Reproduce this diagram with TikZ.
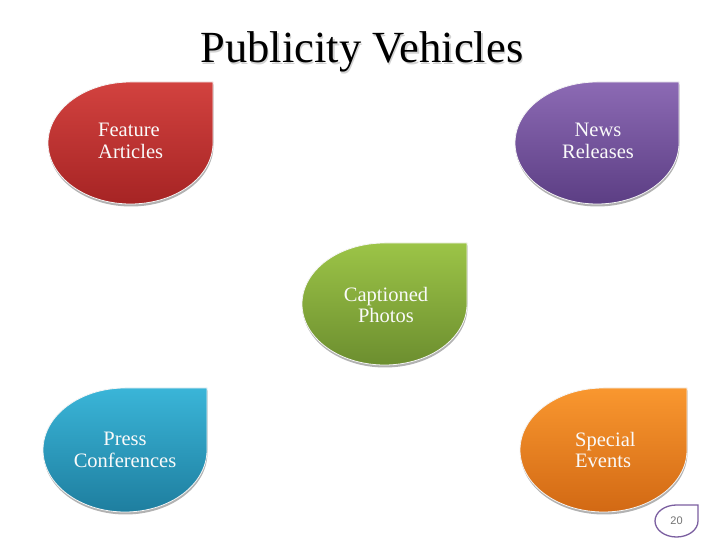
\documentclass[tikz,border=0pt]{standalone}
\usepackage{fontspec}
\setmainfont{Liberation Serif}
\newfontfamily\pagefont{Liberation Sans}
\usetikzlibrary{shadows}
\definecolor{redT}{HTML}{D2423F}\definecolor{redB}{HTML}{A62424}
\definecolor{purT}{HTML}{8C6AB4}\definecolor{purB}{HTML}{5C3E84}
\definecolor{grnT}{HTML}{9CC447}\definecolor{grnB}{HTML}{6C8E2F}
\definecolor{bluT}{HTML}{3AB5D8}\definecolor{bluB}{HTML}{1E7E9F}
\definecolor{orgT}{HTML}{F9972F}\definecolor{orgB}{HTML}{D26914}
\definecolor{pagepurple}{HTML}{7B5FA0}
\tikzset{
  dropbody/.style={draw=white!92!gray, line width=0.8pt,
    drop shadow={shadow xshift=0.5pt, shadow yshift=-2.5pt, opacity=0.3, fill=black}},
  droptext/.style={text=white!96!gray, font=\fontsize{20.5}{21.5}\selectfont, inner sep=0pt},
}
% #1 left, #2 top, #3 right, #4 bottom, #5 style
\newcommand\teardrop[5]{%
  \path[#5] ({(#1+#3)/2},#2) arc[start angle=90, end angle=360,
     x radius={(#3-#1)/2}, y radius={(#2-#4)/2}] -- (#3,#2) -- cycle;}
\begin{document}
\begin{tikzpicture}[x=1pt,y=1pt]
\useasboundingbox[fill=white] (0,0) rectangle (728,546);
% title
\node[font=\fontsize{44.5}{48}\selectfont, text=black!35, opacity=0.5, anchor=base] (titleshadow) at (363.2,481.8) {Publicity Vehicles};
\node[font=\fontsize{44.5}{48}\selectfont, anchor=base] (title) at (362,483) {Publicity Vehicles};
% shapes
\teardrop{48}{464}{213}{342}{dropbody, top color=redT, bottom color=redB}
\teardrop{515}{464}{679}{342}{dropbody, top color=purT, bottom color=purB}
\teardrop{302}{303}{467}{181}{dropbody, top color=grnT, bottom color=grnB}
\teardrop{43}{158}{207}{34}{dropbody, top color=bluT, bottom color=bluB}
\teardrop{520}{158}{687}{34}{dropbody, top color=orgT, bottom color=orgB}
% texts
\node[droptext, align=left, anchor=west] (feature) at (98,405) {Feature\\Articles};
\node[droptext, align=center] (news) at (598,405) {News\\Releases};
\node[droptext, align=center] (photos) at (386,241) {Captioned\\Photos};
\node[droptext, align=center] (press) at (125,96) {Press\\Conferences};
\node[droptext, align=left, anchor=west] (special) at (575,96) {Special\\Events};
% page number
\teardrop{655}{41}{698}{9}{draw=pagepurple, line width=1.3pt, fill=white}
\node[font=\fontsize{11}{13}\selectfont\pagefont, text=black!55] (page) at (676.5,25) {20};
\end{tikzpicture}
\end{document}
